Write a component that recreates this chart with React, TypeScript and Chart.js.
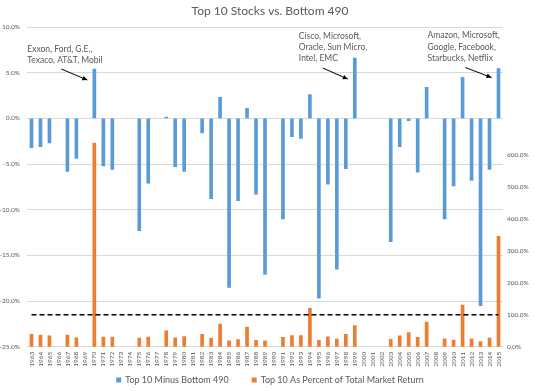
import React, { useEffect, useRef } from 'react';
import { Chart, registerables } from 'chart.js';

Chart.register(...registerables);

// ---------- data ----------
const years = [
  '1963', '1964', '1965', '1966', '1967', '1968', '1969', '1970', '1971', '1972',
  '1973', '1974', '1975', '1976', '1977', '1978', '1979', '1980', '1981', '1982',
  '1983', '1984', '1985', '1986', '1987', '1988', '1989', '1990', '1991', '1992',
  '1993', '1994', '1995', '1996', '1997', '1998', '1999', '2000', '2001', '2002',
  '2003', '2004', '2005', '2006', '2007', '2008', '2009', '2010', '2011', '2012',
  '2013', '2014', '2015',
];

// Top 10 minus bottom 490 (percentage points), left axis
const top10MinusBottom490 = [
  -3.2, -3.1, -2.7, null, -5.8, -4.4, null, 5.4, -5.2, -5.6,
  null, null, -12.3, -7.1, null, 0.15, -5.3, -5.8, null, -1.6,
  -8.8, 2.3, -18.5, -9.0, 1.1, -8.3, -17.1, null, -11.0, -2.0,
  -2.2, 2.6, -19.7, -7.2, -16.5, -5.5, 6.6, null, null, null,
  -13.5, -3.1, -0.25, -5.9, 3.4, null, -11.0, -7.4, 4.5, -6.8,
  -20.5, -5.6, 5.45,
];

// Top 10 as percent of total market return, right axis
const top10PctOfMarketReturn = [
  39, 36, 34, null, 36, 28, null, 637, 30, 30,
  null, null, 27, 30, null, 50, 28, 32, null, 39,
  26, 71, 18, 22, 61, 20, 18, null, 29, 35,
  35, 120, 20, 31, 24, 39, 66, null, null, null,
  23, 34, 44, 29, 77, null, 25, 21, 130, 25,
  16, 27, 345,
];

const benchmarkPct = 100;
const benchmarkSpan = ['1963', '2015'];

const seriesNames = ['Top 10 Minus Bottom 490', 'Top 10 As Percent of Total Market Return'];
const chartTitle = 'Top 10 Stocks vs. Bottom 490';

const leftTicks = { min: -25, max: 10, step: 5 };
const rightTicks = { min: 0, max: 1000, step: 100, lastLabelled: 600 };

const callouts = [
  { year: '1970', lines: ['Exxon, Ford, G.E.,', 'Texaco, AT&T, Mobil'] },
  { year: '1999', lines: ['Cisco, Microsoft,', 'Oracle, Sun Micro,', 'Intel, EMC'] },
  { year: '2015', lines: ['Amazon, Microsoft,', 'Google, Facebook,', 'Starbucks, Netflix'] },
];

// ---------- styles / placement ----------
const BLUE = '#5B9BD5';
const ORANGE = '#ED7D31';
const TEXT = '#595959';
const GRID = '#D9D9D9';
const FONT = 'Lato';

const calloutPlacement = [
  { textDx: -67, textDy: -20, from: [-33, 0], to: [-7, 11] },
  { textDx: -56, textDy: -22, from: [-32, 10], to: [-7, 21] },
  { textDx: -71, textDy: -33, from: [-33, -1], to: [-7, 9] },
];

const calloutPlugin = {
  id: 'callouts',
  afterDatasetsDraw(chart: any) {
    const { ctx } = chart;
    const xs = chart.scales.x;
    const ys = chart.scales.y;
    ctx.save();
    callouts.forEach((c, i) => {
      const p = calloutPlacement[i];
      const idx = years.indexOf(c.year);
      const v = top10MinusBottom490[idx] as number;
      const bx = xs.getPixelForValue(idx);
      const by = ys.getPixelForValue(v);
      ctx.font = `8.5px ${FONT}`;
      ctx.fillStyle = TEXT;
      ctx.textAlign = 'left';
      ctx.textBaseline = 'middle';
      c.lines.forEach((line, k) => {
        ctx.fillText(line, bx + p.textDx, by + p.textDy + k * 11.3);
      });
      const x1 = bx + p.from[0];
      const y1 = by + p.from[1];
      const x2 = bx + p.to[0];
      const y2 = by + p.to[1];
      ctx.strokeStyle = '#000';
      ctx.fillStyle = '#000';
      ctx.lineWidth = 1;
      ctx.beginPath();
      ctx.moveTo(x1, y1);
      ctx.lineTo(x2, y2);
      ctx.stroke();
      const ang = Math.atan2(y2 - y1, x2 - x1);
      const len = 5;
      const hw = 2.3;
      ctx.beginPath();
      ctx.moveTo(x2, y2);
      ctx.lineTo(x2 - len * Math.cos(ang) + hw * Math.sin(ang), y2 - len * Math.sin(ang) - hw * Math.cos(ang));
      ctx.lineTo(x2 - len * Math.cos(ang) - hw * Math.sin(ang), y2 - len * Math.sin(ang) + hw * Math.cos(ang));
      ctx.closePath();
      ctx.fill();
    });
    ctx.restore();
  },
};

const legendPlugin = {
  id: 'squareLegend',
  afterDraw(chart: any) {
    const { ctx } = chart;
    const items = chart.data.datasets
      .filter((d: any) => d.showInLegend)
      .map((d: any) => ({ text: d.label, color: d.backgroundColor }));
    ctx.save();
    ctx.font = `9px ${FONT}`;
    const box = 5;
    const gap = 4;
    const between = 23;
    const widths = items.map((it: any) => box + gap + ctx.measureText(it.text).width);
    const total = widths.reduce((a: number, b: number) => a + b, 0) + between * (items.length - 1);
    let x = chart.width / 2 - total / 2;
    const y = 380;
    items.forEach((it: any, i: number) => {
      ctx.fillStyle = it.color;
      ctx.fillRect(x, y - box / 2, box, box);
      ctx.fillStyle = TEXT;
      ctx.textAlign = 'left';
      ctx.textBaseline = 'middle';
      ctx.fillText(it.text, x + box + gap, y);
      x += widths[i] + between;
    });
    ctx.restore();
  },
};

export default function App() {
  const ref = useRef<HTMLCanvasElement | null>(null);

  useEffect(() => {
    if (!ref.current) return;
    const chart = new Chart(ref.current, {
      type: 'bar',
      data: {
        labels: years,
        datasets: [
          {
            type: 'line',
            label: 'benchmark',
            data: benchmarkSpan.map((y) => ({ x: y, y: benchmarkPct })) as any,
            yAxisID: 'y1',
            borderColor: '#000',
            borderWidth: 1.5,
            borderDash: [5, 3],
            pointRadius: 0,
            fill: false,
            order: 0,
          } as any,
          {
            type: 'bar',
            label: seriesNames[0],
            data: top10MinusBottom490 as any,
            backgroundColor: BLUE,
            yAxisID: 'y',
            barThickness: 3,
            grouped: false,
            order: 1,
            showInLegend: true,
          } as any,
          {
            type: 'bar',
            label: seriesNames[1],
            data: top10PctOfMarketReturn as any,
            backgroundColor: ORANGE,
            yAxisID: 'y1',
            barThickness: 3,
            grouped: false,
            order: 2,
            showInLegend: true,
          } as any,
        ],
      },
      options: {
        responsive: false,
        animation: false,
        layout: { padding: { top: 0, right: 0, bottom: 18.3, left: 0 } },
        plugins: {
          legend: { display: false },
          tooltip: { enabled: false },
          title: {
            display: true,
            text: chartTitle,
            color: TEXT,
            font: { family: FONT, size: 12, weight: 'normal' },
            padding: { top: 3.5, bottom: 9.1 },
          },
        },
        scales: {
          x: {
            grid: { display: false, drawTicks: false },
            border: { display: false },
            ticks: {
              autoSkip: false,
              maxRotation: 90,
              minRotation: 90,
              padding: 5,
              color: TEXT,
              font: { family: FONT, size: 6.5 },
            },
            afterFit(s: any) {
              s.height = 26;
            },
          },
          y: {
            position: 'left',
            min: leftTicks.min,
            max: leftTicks.max,
            grid: { color: GRID, drawTicks: false },
            border: { display: false },
            ticks: {
              stepSize: leftTicks.step,
              padding: 7,
              color: TEXT,
              font: { family: FONT, size: 6.5 },
              callback: (v: any) => `${Number(v).toFixed(1)}%`,
            },
            afterFit(s: any) {
              s.width = 27;
            },
          },
          y1: {
            position: 'right',
            min: rightTicks.min,
            max: rightTicks.max,
            grid: { display: false, drawTicks: false },
            border: { display: false },
            ticks: {
              stepSize: rightTicks.step,
              padding: 4,
              color: TEXT,
              font: { family: FONT, size: 6.5 },
              callback: (v: any) => (Number(v) <= rightTicks.lastLabelled ? `${Number(v).toFixed(1)}%` : ''),
            },
            afterFit(s: any) {
              s.width = 37;
            },
          },
        },
      } as any,
      plugins: [calloutPlugin, legendPlugin],
    });
    return () => chart.destroy();
  }, []);

  return (
    <div style={{ position: 'absolute', left: 0, top: 0, width: 540, height: 391, background: '#fff' }}>
      <canvas ref={ref} width={540} height={391} />
    </div>
  );
}
